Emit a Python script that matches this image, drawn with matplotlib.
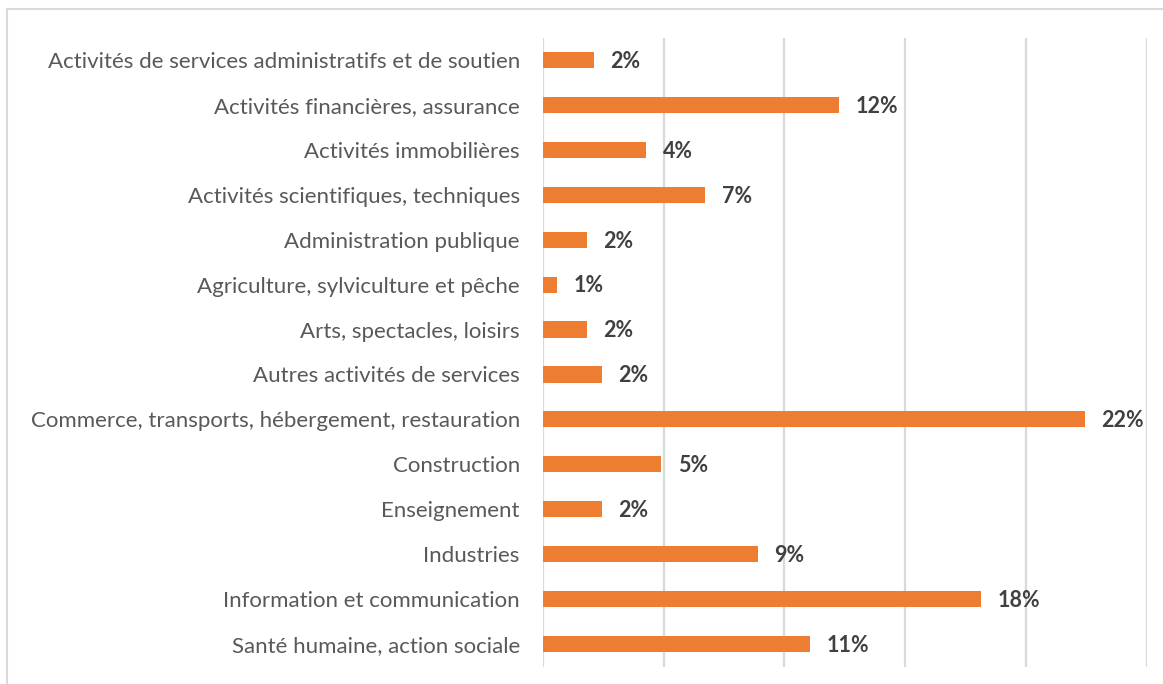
import matplotlib
matplotlib.use('Agg')
import matplotlib.pyplot as plt
from matplotlib.lines import Line2D

# secteurs d'activite et parts (en %)
secteurs = [
    "Activités de services administratifs et de soutien",
    "Activités financières, assurance",
    "Activités immobilières",
    "Activités scientifiques, techniques",
    "Administration publique",
    "Agriculture, sylviculture et pêche",
    "Arts, spectacles, loisirs",
    "Autres activités de services",
    "Commerce, transports, hébergement, restauration",
    "Construction",
    "Enseignement",
    "Industries",
    "Information et communication",
    "Santé humaine, action sociale",
]
parts = [2.12, 12.26, 4.29, 6.73, 1.83, 0.59, 1.83, 2.45, 22.43, 4.91, 2.45, 8.9, 18.13, 11.06]
etiquettes = ["2%", "12%", "4%", "7%", "2%", "1%", "2%", "2%", "22%", "5%", "2%", "9%", "18%", "11%"]
graduations = [0, 5, 10, 15, 20, 25]

plt.rcParams['font.family'] = ['Lato', 'DejaVu Sans']

W, H = 1163, 684
fig = plt.figure(figsize=(W / 100, H / 100), dpi=100)
ax = fig.add_axes([542.7 / W, 17.5 / H, 604.3 / W, 629 / H])

y = list(range(len(secteurs)))
ax.barh(y, parts, height=0.36, color='#ED7D31', zorder=3)
ax.set_ylim(len(secteurs) - 0.5, -0.5)
ax.set_xlim(0, 25)
ax.set_xticks(graduations)
ax.set_xticklabels([])
ax.tick_params(axis='x', length=0)
ax.tick_params(axis='y', length=0, pad=16.5, labelsize=16, labelcolor='#595959')
ax.set_yticks(y)
ax.set_yticklabels(secteurs)
ax.grid(axis='x', color='#D9D9D9', linewidth=1.6, zorder=0)
for s in ax.spines.values():
    s.set_visible(False)

for i, (v, t) in enumerate(zip(parts, etiquettes)):
    ax.annotate(t, (v, i), xytext=(12, -1), textcoords='offset points',
                ha='left', va='center', fontsize=15.5, fontweight='bold', color='#404040')

# cadre du graphique
fig.add_artist(Line2D([7 / W, 1.0], [1 - 9 / H, 1 - 9 / H], color='#D9D9D9', linewidth=1.5, transform=fig.transFigure))
fig.add_artist(Line2D([7 / W, 7 / W], [0, 1 - 9 / H], color='#D9D9D9', linewidth=1.5, transform=fig.transFigure))

fig.savefig('out.png', dpi=100)
